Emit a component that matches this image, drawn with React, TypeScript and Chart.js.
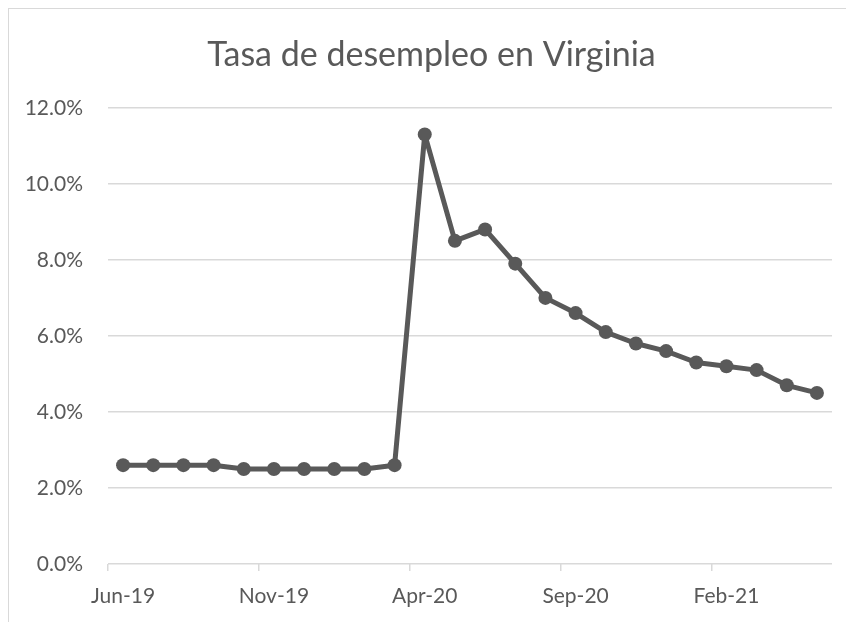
import React, { useEffect, useRef } from "react";
import { Chart, registerables } from "chart.js";

Chart.register(...registerables);

const months: string[] = [
  "Jun-19", "Jul-19", "Aug-19", "Sep-19", "Oct-19", "Nov-19", "Dec-19", "Jan-20",
  "Feb-20", "Mar-20", "Apr-20", "May-20", "Jun-20", "Jul-20", "Aug-20", "Sep-20",
  "Oct-20", "Nov-20", "Dec-20", "Jan-21", "Feb-21", "Mar-21", "Apr-21", "May-21",
];
const unemploymentRate: number[] = [
  2.6, 2.6, 2.6, 2.6, 2.5, 2.5, 2.5, 2.5, 2.5, 2.6, 11.3, 8.5,
  8.8, 7.9, 7.0, 6.6, 6.1, 5.8, 5.6, 5.3, 5.2, 5.1, 4.7, 4.5,
];
const yTicks: number[] = [0, 2, 4, 6, 8, 10, 12];
const chartTitle = "Tasa de desempleo en Virginia";

const TEXT = "#595959";
const GRID = "#d9d9d9";
const FONT = "Lato, 'Open Sans', sans-serif";

export default function App() {
  const ref = useRef<HTMLCanvasElement | null>(null);
  useEffect(() => {
    if (!ref.current) return;
    const chart = new Chart(ref.current, {
      type: "line",
      data: {
        labels: months,
        datasets: [
          {
            data: unemploymentRate,
            borderColor: "#595959",
            backgroundColor: "#595959",
            borderWidth: 5,
            borderJoinStyle: "round",
            borderCapStyle: "round",
            pointRadius: 7,
            pointBorderWidth: 0,
            pointBackgroundColor: "#595959",
            tension: 0,
          },
        ],
      },
      options: {
        animation: false,
        responsive: false,
        layout: { padding: { top: 0, left: 0, right: 0, bottom: 0 } },
        plugins: {
          legend: { display: false },
          tooltip: { enabled: false },
          title: {
            display: true,
            text: chartTitle,
            color: TEXT,
            font: { family: FONT, size: 34, weight: "normal" },
            padding: { top: 26, bottom: 32 },
          },
        },
        scales: {
          x: {
            type: "category",
            offset: true,
            grid: {
              offset: true,
              drawOnChartArea: false,
              drawTicks: true,
              tickLength: 7,
              lineWidth: 1.5,
              color: (ctx: any) => (ctx.index % 5 === 0 ? GRID : "rgba(0,0,0,0)"),
            },
            border: { display: false },
            ticks: {
              autoSkip: false,
              maxRotation: 0,
              color: TEXT,
              padding: 13,
              font: { family: FONT, size: 21 },
              callback: (_v: any, i: number) => (i % 5 === 0 ? months[i] : ""),
            },
            afterFit: (s: any) => {
              s.height = 58;
            },
          },
          y: {
            min: 0,
            max: 12,
            afterBuildTicks: (s: any) => {
              s.ticks = yTicks.map((v) => ({ value: v }));
            },
            grid: { color: GRID, lineWidth: 1.5, drawTicks: false },
            border: { display: false },
            ticks: {
              color: TEXT,
              padding: 25,
              font: { family: FONT, size: 21 },
              callback: (v: any) => Number(v).toFixed(1) + "%",
            },
            afterFit: (s: any) => {
              s.width = 99;
            },
          },
          yRight: {
            position: "right",
            display: true,
            min: 0,
            max: 12,
            grid: { display: false, drawTicks: false },
            border: { display: false },
            ticks: { display: false },
            afterFit: (s: any) => {
              s.width = 22;
            },
          },
        },
      },
    });
    return () => chart.destroy();
  }, []);
  return (
    <div
      style={{
        width: 845,
        height: 613,
        borderTop: "1px solid #d9d9d9",
        borderLeft: "1px solid #d9d9d9",
        background: "#fff",
      }}
    >
      <canvas ref={ref} width={845} height={613} style={{ display: "block" }} />
    </div>
  );
}
